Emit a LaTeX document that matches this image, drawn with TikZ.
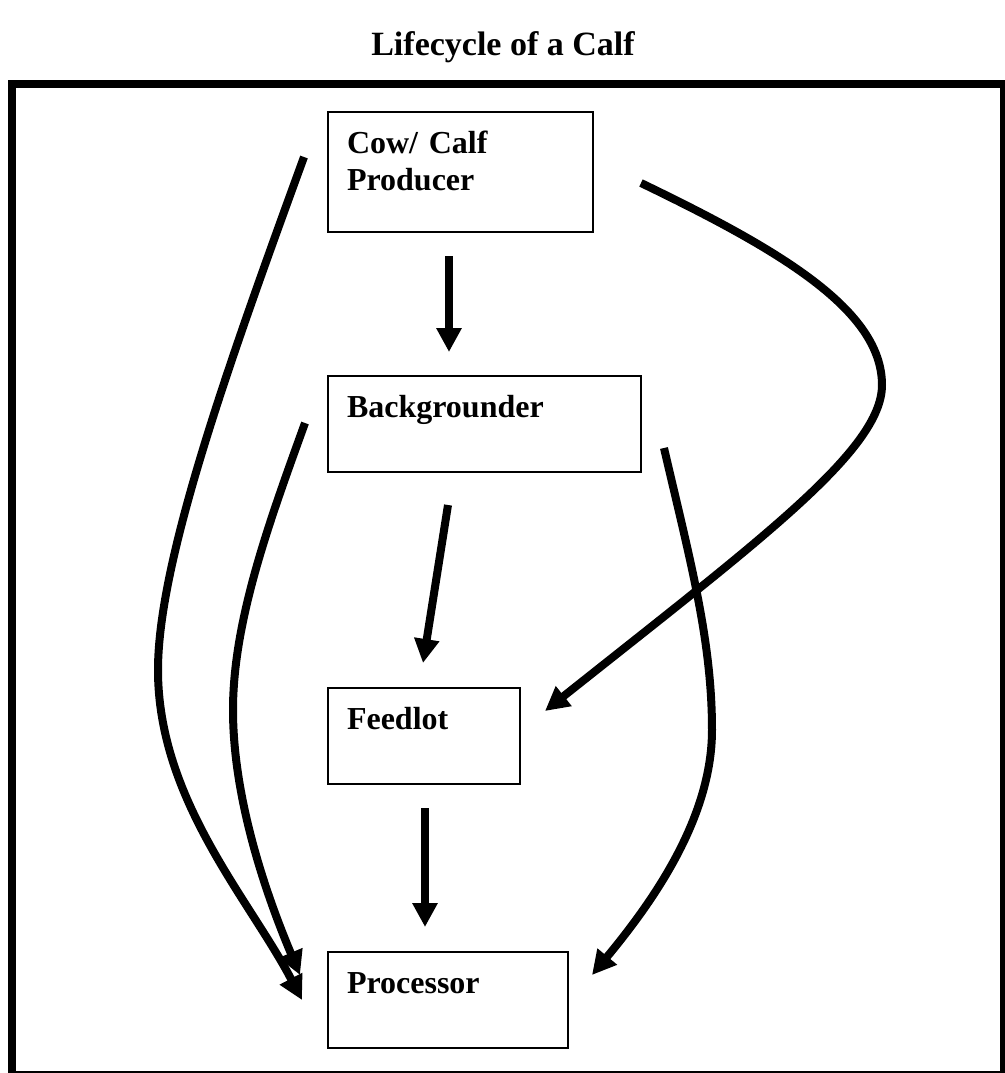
\documentclass[tikz,border=0pt]{standalone}
\usepackage{fontspec}
\setmainfont{Liberation Serif}
\usetikzlibrary{arrows.meta,positioning,calc}

\begin{document}
\begin{tikzpicture}[
  x=0.5pt, y=-0.5pt, >={Triangle[length=12pt,width=12pt]},
  box/.style={draw, line width=1pt, outer sep=0pt, anchor=north west, align=left,
    inner xsep=9.5pt, inner ysep=0pt, text height=20.5pt, text depth=27.5pt,
    font=\bfseries\fontsize{16}{18.5}\selectfont},
  flow/.style={->, line width=4pt}]

  \useasboundingbox (0,0) rectangle (1005,1073);
  \clip (0,0) rectangle (1005,1073);

  % --- title and frame ---
  \node[font=\bfseries\fontsize{17}{20}\selectfont, anchor=base] (title) at (503,55) {Lifecycle of a Calf};
  \draw[line width=4pt] (12,84) rectangle (1004,1075);

  % --- the four stages ---
  \node[box, text width=113.5pt, text depth=39.5pt] (cow) at (328,112) {Cow/ Calf\\Producer};
  \node[box, text width=137.5pt, below=72pt of cow.south west, anchor=north west] (bg) {Backgrounder};
  \node[box, text width=77pt, below=108pt of bg.south west, anchor=north west] (feed) {Feedlot};
  \node[box, text width=101pt, below=84pt of feed.south west, anchor=north west] (proc) {Processor};

  % --- straight arrows down the middle ---
  \draw[flow] ($(cow.south west)+(121,24)$) -- ($(bg.north west)+(121,-24)$);
  \draw[flow] ($(bg.south west)+(120,33)$) -- ($(feed.north west)+(95,-25)$);
  \draw[flow] ($(feed.south west)+(97,24)$) -- ($(proc.north west)+(97,-25)$);

  % --- curved arrows round the sides ---
  \draw[flow] ($(cow.north east)+(48,71)$) .. controls (780,250) and (882,310) .. (882,385)
    .. controls (882,450) and (760,540) .. ($(feed.north east)+(25,23)$);
  \draw[flow] ($(cow.north west)+(-24,45)$) .. controls (230,360) and (158,560) .. (158,670)
    .. controls (158,800) and (250,900) .. ($(proc.north west)+(-26,48)$);
  \draw[flow] ($(bg.north west)+(-23,47)$) .. controls (270,520) and (233,620) .. (233,710)
    .. controls (233,790) and (260,880) .. ($(proc.north west)+(-28,23)$);
  \draw[flow] ($(bg.north east)+(23,72)$) .. controls (690,560) and (712,640) .. (712,730)
    .. controls (712,820) and (650,905) .. ($(proc.north east)+(24,23)$);
\end{tikzpicture}
\end{document}
